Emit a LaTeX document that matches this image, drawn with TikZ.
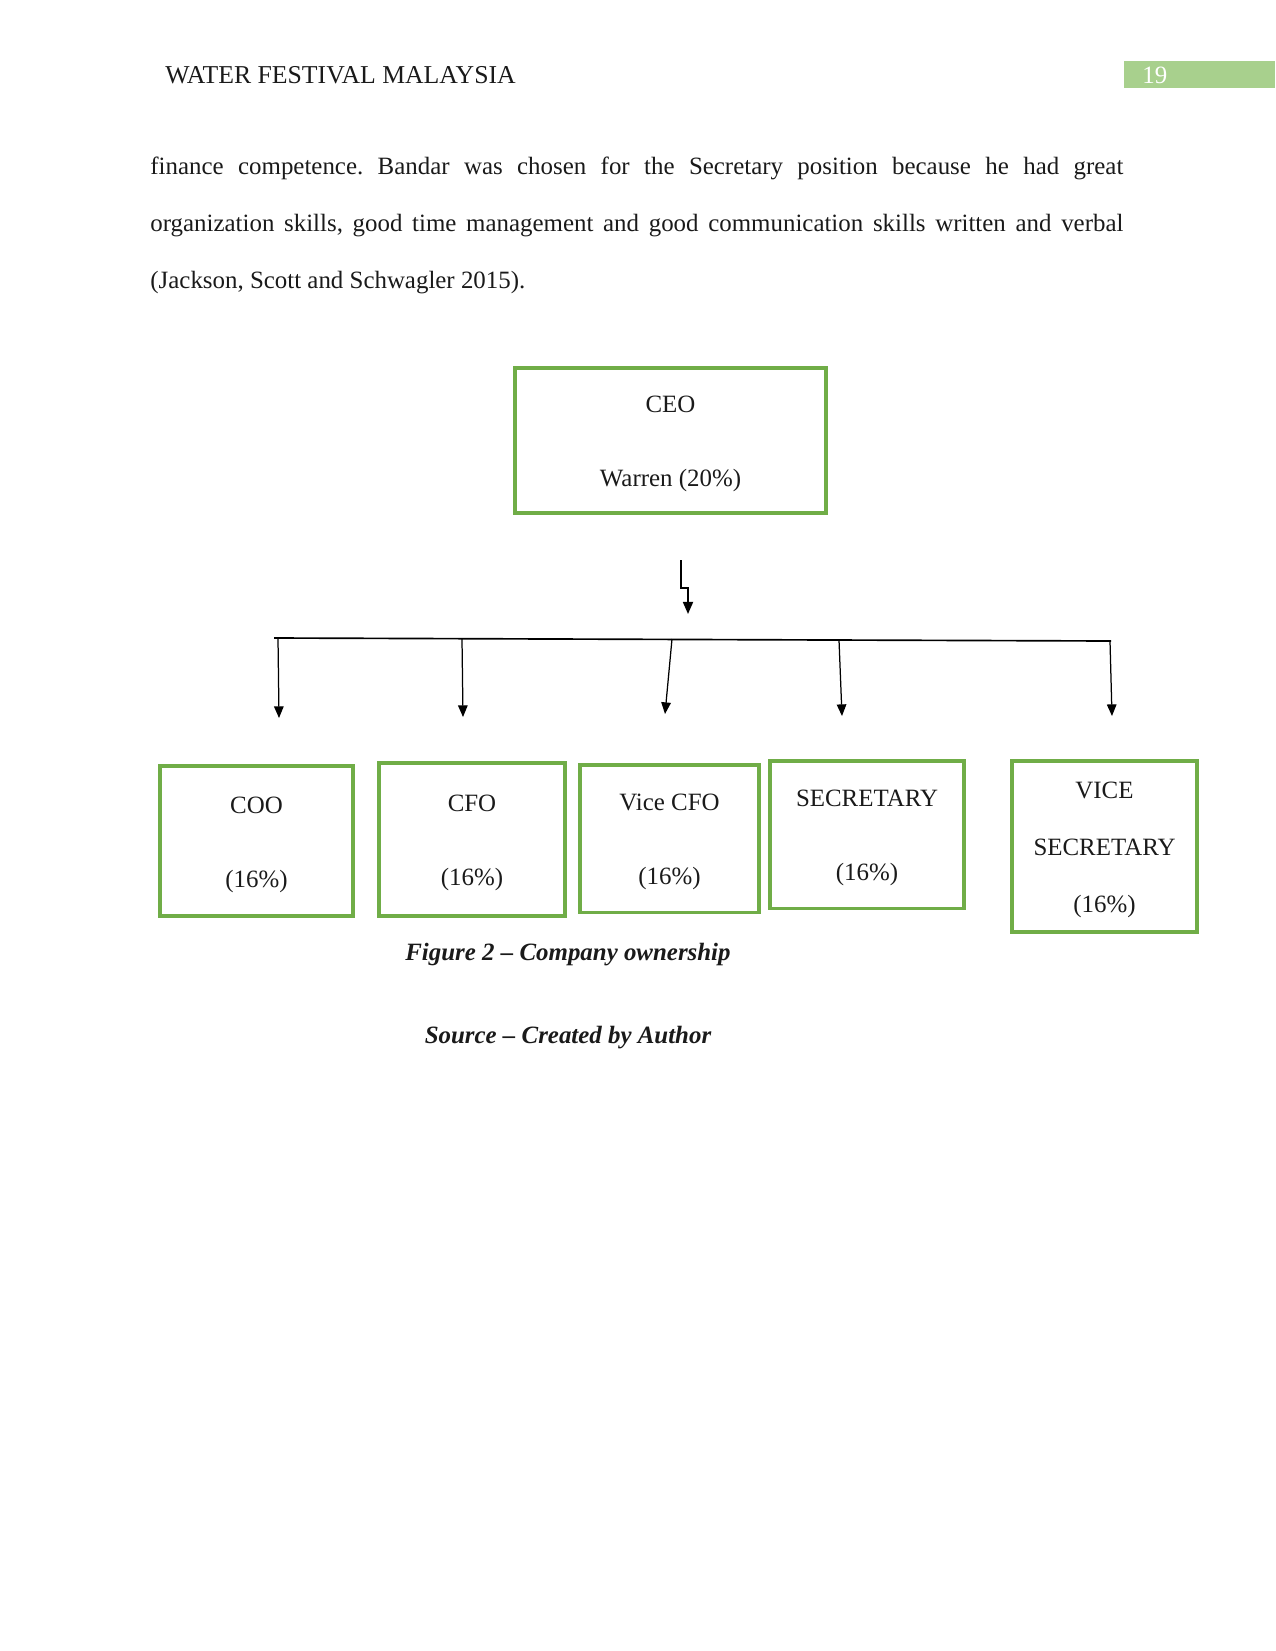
\documentclass[tikz,border=0pt]{standalone}
\usepackage{fontspec}
\setmainfont{Liberation Serif}
\usepackage{xcolor}
\usepackage{tikz}
\usetikzlibrary{positioning,arrows.meta}
\definecolor{leaf}{HTML}{70AD47}
\definecolor{leaflite}{HTML}{A8D08D}
\definecolor{ink}{HTML}{1A1A1A}
\frenchspacing
\newcommand{\boxtop}{\rule{0pt}{11.5pt}}
\tikzset{
  orgbox/.style  ={draw=leaf, line width=1.5pt, align=center, inner sep=0pt,
                   font=\fontsize{12}{35.5}\selectfont, text=ink},
  orgtall/.style ={orgbox, font=\fontsize{12}{27.4}\selectfont},
  bodyline/.style={anchor=base west, inner sep=0pt, font=\fontsize{12}{14}\selectfont, text=ink},
  caption/.style ={anchor=base, inner sep=0pt, font=\fontsize{12}{14}\selectfont\bfseries\itshape, text=ink},
  flowarr/.style ={-{Triangle[length=5.6pt,width=4.6pt]}, line width=0.6pt},
  stubarr/.style ={-{Triangle[length=5.8pt,width=4.8pt]}, line width=0.9pt},
}

\begin{document}
\begin{tikzpicture}[x=0.16933mm, y=-0.16933mm]
\useasboundingbox (0,0) rectangle (1275,1651);

% ---- running head
\node[bodyline, font=\fontsize{12.4}{14}\selectfont] (head) at (165,83) {WATER FESTIVAL MALAYSIA};
\fill[leaflite] (1124,61) rectangle (1275,88);
\node[bodyline, text=white] (pageno) at (1142,83) {19};

% ---- paragraph tail
\node[bodyline] (para1) at (150,174) {\makebox[467bp][s]{finance competence. Bandar was chosen for the Secretary position because he had great}};
\node[bodyline] (para2) at (150,231) {\makebox[467bp][s]{organization skills, good time management and good communication skills written and verbal}};
\node[bodyline] (para3) at (150,288) {(Jackson, Scott and Schwagler 2015).};

% ---- top of the chart
\node[orgbox, minimum width=149.3bp, minimum height=69.6bp] (ceo) at (670.5,440.5) {\boxtop CEO\\Warren (20\%)};

\coordinate (stubtop) at (681,560);
\coordinate (stubbend) at (681,588);
\coordinate (stubtip) at (688,614);
\draw[stubarr] (stubtop) -- (stubbend) -| (stubtip);

% ---- bus line and drops
\coordinate (busL) at (274,638);
\coordinate (busR) at (1111,641);
\draw[line width=0.8pt] (busL) -- (busR);
\foreach \i/\xa/\ya/\xb/\yb in {1/278/638/279/718, 2/462/639/463/717, 3/672/639/665/714, 4/839/640/842/716, 5/1110/641/1112/716} {
  \coordinate (drop\i) at (\xa,\ya);
  \coordinate (tip\i) at (\xb,\yb);
  \draw[flowarr] (drop\i) -- (tip\i);
}

% ---- owners
\node[orgbox, minimum width=92.6bp, minimum height=72bp]   (coo)  at (256.5,841)   {\boxtop COO\\(16\%)};
\node[orgbox, minimum width=89.3bp, minimum height=73.4bp] (cfo)  at (472,839.5)   {\boxtop CFO\\(16\%)};
\node[orgbox, minimum width=85.9bp, minimum height=70.6bp] (vcfo) at (669.5,838.5) {\boxtop Vice CFO\\(16\%)};
\node[orgbox, minimum width=93.1bp, minimum height=70.6bp] (sec)  at (867,834.5)   {\boxtop SECRETARY\\(16\%)};
\node[orgtall, minimum width=88.8bp, minimum height=82.1bp] (vsec) at (1104.5,846.5) {\boxtop VICE\\SECRETARY\\(16\%)};

% ---- caption
\node[caption] (figcap) at (568,960) {Figure 2 -- Company ownership};
\node[caption] (srccap) at (568,1043) {Source -- Created by Author};
\end{tikzpicture}
\end{document}
